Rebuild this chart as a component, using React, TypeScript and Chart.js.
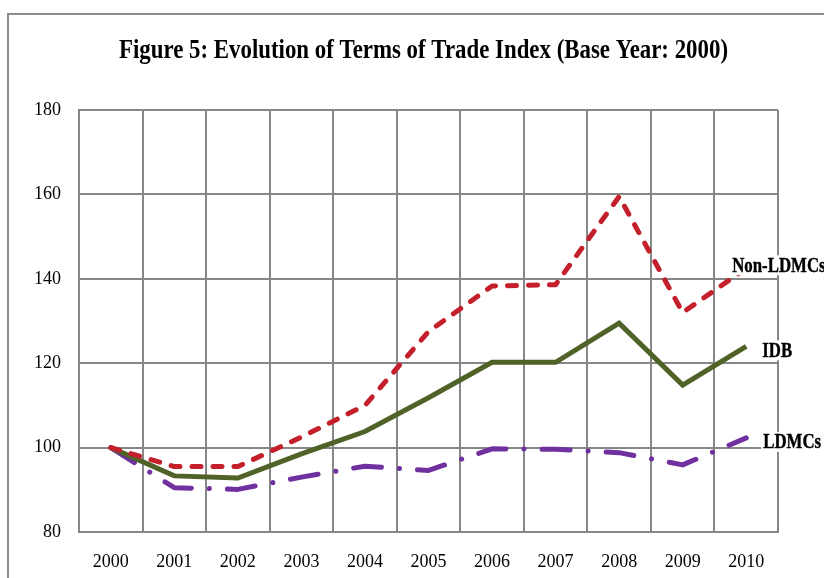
import React, { useEffect, useRef } from "react";
import { Chart, registerables } from "chart.js";

Chart.register(...registerables);

const TITLE = "Figure 5: Evolution of Terms of Trade Index (Base Year: 2000)";
const years = ["2000", "2001", "2002", "2003", "2004", "2005", "2006", "2007", "2008", "2009", "2010"];
const nonLdmcs = [100, 95.5, 95.5, 102.5, 110, 127.5, 138.3, 138.6, 159.5, 132, 142.5];
const idb = [100, 93.3, 92.8, 98.5, 103.8, 111.8, 120.2, 120.2, 129.5, 114.8, 124];
const ldmcs = [100, 90.5, 90.1, 93, 95.6, 94.6, 99.7, 99.6, 98.8, 95.9, 102.3];
const seriesNames = ["Non-LDMCs", "IDB", "LDMCs"];
const yMin = 80;
const yMax = 180;
const yStep = 20;

const GRID = "#878787";

const framePlugin = {
  id: "frame",
  beforeDraw(chart: any) {
    const ctx = chart.ctx;
    ctx.save();
    ctx.fillStyle = "#ffffff";
    ctx.fillRect(0, 0, chart.width, chart.height);
    ctx.strokeStyle = "#8c8c8c";
    ctx.lineWidth = 2;
    ctx.strokeRect(8, 14, chart.width + 40, chart.height + 40);
    ctx.restore();
  },
  afterDraw(chart: any) {
    const ctx = chart.ctx;
    ctx.save();
    ctx.font = 'bold 27px "Liberation Serif"';
    ctx.fillStyle = "#000";
    ctx.textBaseline = "alphabetic";
    ctx.textAlign = "left";
    const w = ctx.measureText(TITLE).width;
    const target = 609;
    const sx = target / w;
    ctx.translate(119, 58);
    ctx.scale(sx, 1);
    ctx.fillText(TITLE, 0, 0);
    ctx.restore();
  },
};

const endLabelPlugin = {
  id: "endLabels",
  afterDatasetsDraw(chart: any, _args: any, opts: any) {
    const ctx = chart.ctx;
    const offsets = opts.offsets || [];
    chart.data.datasets.forEach((ds: any, i: number) => {
      const meta = chart.getDatasetMeta(i);
      const pt = meta.data[meta.data.length - 1];
      if (!pt) return;
      const off = offsets[i] || { dx: 10, dy: 0 };
      const x = pt.x + off.dx;
      const y = pt.y + off.dy;
      ctx.save();
      ctx.font = 'bold 21px "Liberation Serif"';
      const sx = 0.8;
      const w = ctx.measureText(ds.label).width * sx;
      ctx.fillStyle = "#ffffff";
      ctx.fillRect(x - 2, y - 10, w + 4, 20);
      ctx.translate(x, y);
      ctx.scale(sx, 1);
      ctx.fillStyle = "#000";
      ctx.strokeStyle = "#000";
      ctx.lineWidth = 0.4;
      ctx.textBaseline = "middle";
      ctx.textAlign = "left";
      ctx.fillText(ds.label, 0, 1);
      ctx.strokeText(ds.label, 0, 1);
      ctx.restore();
    });
  },
};

export default function App() {
  const ref = useRef<HTMLCanvasElement>(null);
  useEffect(() => {
    if (!ref.current) return;
    const chart = new Chart(ref.current, {
      type: "line",
      data: {
        labels: years,
        datasets: [
          {
            label: seriesNames[0],
            data: nonLdmcs,
            borderColor: "#C3202B",
            borderWidth: 5,
            borderDash: [9, 12],
            borderCapStyle: "round",
            borderJoinStyle: "round",
            pointRadius: 0,
            tension: 0,
            fill: false,
          },
          {
            label: seriesNames[1],
            data: idb,
            borderColor: "#4F6228",
            borderWidth: 5,
            pointRadius: 0,
            tension: 0,
            fill: false,
          },
          {
            label: seriesNames[2],
            data: ldmcs,
            borderColor: "#7030A0",
            borderWidth: 5,
            borderDash: [28, 18, 0.1, 18],
            borderCapStyle: "round",
            borderJoinStyle: "round",
            pointRadius: 0,
            tension: 0,
            fill: false,
          },
        ],
      },
      options: {
        animation: false,
        responsive: false,
        layout: { padding: { left: 0, right: 46, top: 110, bottom: 0 } },
        plugins: {
          legend: { display: false },
          title: { display: false },
          tooltip: { enabled: false },
          endLabels: {
            offsets: [
              { dx: -14, dy: -3 },
              { dx: 16, dy: 4 },
              { dx: 17, dy: 4 },
            ],
          },
        } as any,
        scales: {
          x: {
            type: "category",
            offset: true,
            grid: { offset: true, color: GRID, lineWidth: 2, drawTicks: false },
            border: { color: GRID, width: 2 },
            ticks: {
              color: "#000",
              font: { family: '"Liberation Serif"', size: 18 },
              padding: 19,
              maxRotation: 0,
            },
            afterFit: (s: any) => {
              s.height = 46;
            },
          },
          y: {
            min: yMin,
            max: yMax,
            grid: { color: GRID, lineWidth: 2, drawTicks: false },
            border: { color: GRID, width: 2 },
            ticks: {
              stepSize: yStep,
              color: "#000",
              font: { family: '"Liberation Serif"', size: 18 },
              padding: 18,
            },
            afterFit: (s: any) => {
              s.width = 79;
            },
          },
        },
      },
      plugins: [framePlugin, endLabelPlugin],
    });
    return () => chart.destroy();
  }, []);
  return (
    <div style={{ position: "absolute", left: 0, top: 0, width: 824, height: 578 }}>
      <canvas ref={ref} width={824} height={578} />
    </div>
  );
}
